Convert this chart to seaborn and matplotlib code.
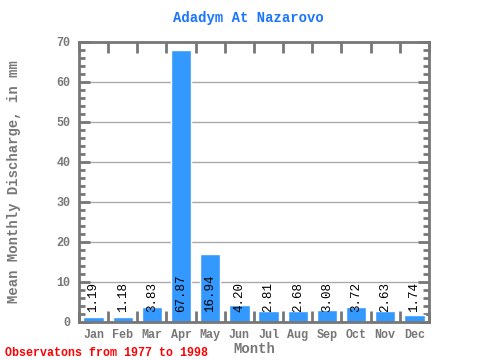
import numpy as np
import pandas as pd
import seaborn as sns
import matplotlib
matplotlib.use("Agg")
import matplotlib.pyplot as plt
from matplotlib.ticker import MultipleLocator

months = ["Jan", "Feb", "Mar", "Apr", "May", "Jun", "Jul", "Aug", "Sep", "Oct", "Nov", "Dec"]
discharge = [1.19, 1.18, 3.83, 67.87, 16.94, 4.20, 2.81, 2.68, 3.08, 3.72, 2.63, 1.74]

df = pd.DataFrame({"Month": months, "Discharge": discharge})

sns.set_style("white")
plt.rcParams['font.family'] = ['Liberation Mono', 'DejaVu Sans Mono']

gray = "#777777"
fig = plt.figure(figsize=(4.8, 3.6), dpi=100)
ax = fig.add_axes([0.1646, 0.1056, 0.729, 0.778])

sns.barplot(data=df, x="Month", y="Discharge", color="#3399ff", saturation=1,
            width=0.7, ax=ax)

ax.set_ylim(0, 70)
ax.set_xlim(-0.5, 11.5)
ax.yaxis.set_major_locator(MultipleLocator(10))
ax.yaxis.set_minor_locator(MultipleLocator(2))
ax.grid(axis="y", color="#aaaaaa", linewidth=1)
ax.set_axisbelow(True)

for s in ax.spines.values():
    s.set_color(gray)
    s.set_linewidth(2)

ax.tick_params(axis="y", which="major", direction="in", length=8, width=2, color=gray,
               left=True, right=True, labelcolor=gray, labelsize=8.5, pad=6)
ax.tick_params(axis="y", which="minor", direction="in", length=4, width=2, color=gray,
               left=True, right=True)
ax.tick_params(axis="x", which="major", length=0, labelcolor=gray, labelsize=8.5, pad=5)
ax.set_xticks(np.arange(-0.5, 12, 1), minor=True)
ax.tick_params(axis="x", which="minor", direction="in", length=8, width=2, color=gray,
               top=True, bottom=True)
for lbl in ax.get_xticklabels() + ax.get_yticklabels():
    lbl.set_fontweight("bold")

# value labels sit near the bottom of each bar
for i, v in enumerate(discharge):
    ax.text(i, 2.5, f"{v:.2f}", rotation=90, ha="center", va="bottom",
            fontsize=9, color="black")

ax.set_xlabel("Month", color=gray, fontsize=10, fontweight="bold", labelpad=1)
ax.set_ylabel("Mean Monthly Discharge, in mm", color=gray, fontsize=10,
              fontweight="bold", labelpad=26)
fig.suptitle("Adadym At Nazarovo", x=0.517, y=0.97, color="#1a75ff",
             fontsize=10, fontweight="bold")
fig.text(0.01, 0.012, "Observatons from 1977 to 1998", color="red",
         fontsize=8.4, fontweight="bold")

fig.savefig("out.png", dpi=100)
